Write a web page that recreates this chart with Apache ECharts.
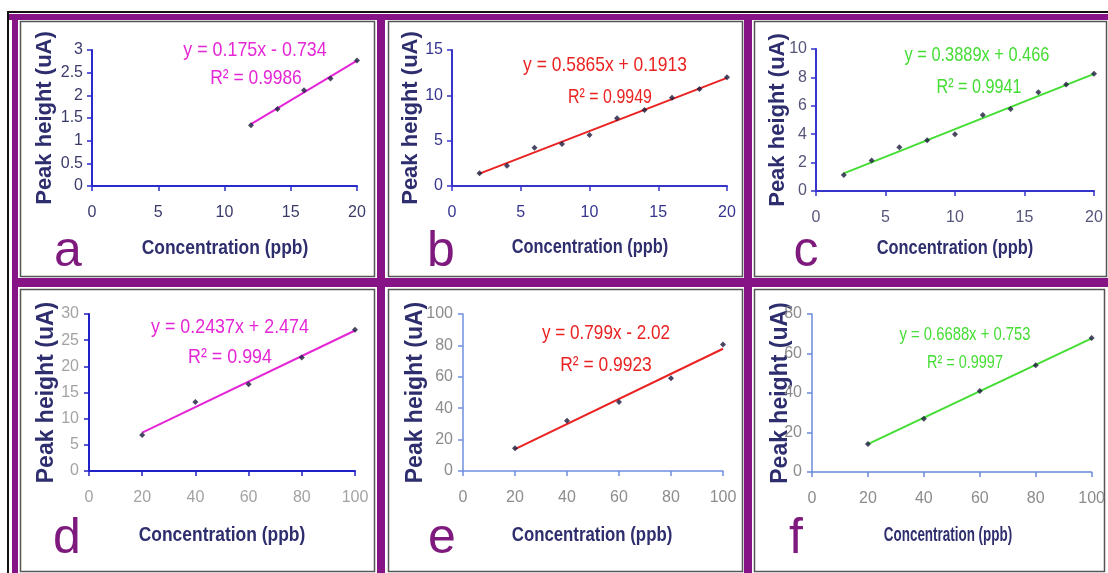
<!DOCTYPE html>
<html>
<head>
<meta charset="utf-8">
<script src="https://cdn.jsdelivr.net/npm/echarts@6/dist/echarts.min.js"></script>
<style>
  html, body { margin: 0; padding: 0; background: #ffffff; }
  #chart { width: 1108px; height: 573px; }
</style>
</head>
<body>
<div id="chart"></div>
<script>
// Calibration curves: peak height versus concentration for six analyses (a–f)
const panelLetters = ['a', 'b', 'c', 'd', 'e', 'f'];

const concA = [12, 14, 16, 18, 20];
const peakA = [1.34, 1.70, 2.11, 2.37, 2.77];

const concB = [2, 4, 6, 8, 10, 12, 14, 16, 18, 20];
const peakB = [1.40, 2.24, 4.23, 4.63, 5.62, 7.46, 8.38, 9.74, 10.70, 11.99];

const concC = [2, 4, 6, 8, 10, 12, 14, 16, 18, 20];
const peakC = [1.12, 2.14, 3.08, 3.57, 4.00, 5.36, 5.78, 6.95, 7.50, 8.26];

const concD = [20, 40, 60, 80, 100];
const peakD = [6.9, 13.2, 16.6, 21.7, 27.0];

const concE = [20, 40, 60, 80, 100];
const peakE = [14.5, 32.0, 44.0, 59.0, 80.6];

const concF = [20, 40, 60, 80, 100];
const peakF = [14.2, 27.0, 41.0, 54.0, 67.8];

// Linear regression results shown on each plot
const slopes = [0.175, 0.5865, 0.3889, 0.2437, 0.799, 0.6688];
const intercepts = [-0.734, 0.1913, 0.466, 2.474, -2.02, 0.753];
const rSquared = [0.9986, 0.9949, 0.9941, 0.994, 0.9923, 0.9997];

// Axis ranges and tick steps
const xMaxes = [20, 20, 20, 100, 100, 100];
const xSteps = [5, 5, 5, 20, 20, 20];
const yMaxes = [3, 15, 10, 30, 100, 80];
const ySteps = [0.5, 5, 2, 5, 20, 20];

const xAxisTitle = 'Concentration (ppb)';
const yAxisTitle = 'Peak height (uA)';

const concs = [concA, concB, concC, concD, concE, concF];
const peaks = [peakA, peakB, peakC, peakD, peakE, peakF];

// ---- presentation ----
const SANS = '"Liberation Sans", Arial, sans-serif';
const PURPLE = '#861486';
const fitColors = ['#e526d6', '#ea2222', '#44dd33', '#e526d6', '#ea2222', '#44dd33'];
const axisColors = ['#2a2acc', '#3535cc', '#3535cc', '#2020c8', '#6f8fdf', '#6a8ad8'];
const tickColors = ['#3a3a6a', '#35358f', '#55557a', '#a3a3a3', '#8c8c8c', '#8c8c8c'];
const nameColor = '#2e2e6e';

// plotting rectangles [left, top, width, height]
const plotRects = [
  [92, 50, 265, 136],
  [452, 50, 275, 136],
  [816, 49, 278, 142],
  [89, 314, 266, 157],
  [463, 314, 260, 157],
  [812, 314, 281, 158]
];
const yNameGaps = [36, 30, 27, 31, 36, 20];
const yNameSizes = [22, 22, 22, 23, 23, 23];

// condensed text blocks: centre x, centre y, horizontal squeeze
const xTitlePos = [[225, 248, 0.83], [590, 247, 0.78], [955, 248, 0.78], [222, 535, 0.83], [592, 535, 0.80], [948, 535, 0.64]];
const eqPos = [[255, 50, 0.85], [605, 65, 0.83], [977, 55, 0.78], [230, 327, 0.85], [606, 333, 0.815], [965, 335, 0.78]];
const r2Pos = [[256, 78, 0.83], [610, 97, 0.76], [979, 87, 0.77], [230, 357, 0.85], [606, 365, 0.83], [965, 363, 0.76]];
const eqSizes = [21, 21, 21, 21, 21, 19];
const letterPos = [[68, 252], [441, 252], [806, 252], [67, 539], [442, 539], [796, 539]];

function eqText(i) {
  const b = intercepts[i];
  return 'y = ' + slopes[i] + 'x ' + (b < 0 ? '- ' : '+ ') + Math.abs(b);
}

const grid = [], xAxis = [], yAxis = [], series = [];
for (let i = 0; i < 6; i++) {
  const r = plotRects[i];
  grid.push({ left: r[0], top: r[1], width: r[2], height: r[3] });
  xAxis.push({
    type: 'value', gridIndex: i, min: 0, max: xMaxes[i], interval: xSteps[i],
    axisLine: { show: true, onZero: false, lineStyle: { color: axisColors[i], width: i < 4 ? 2 : 1.5 } },
    axisTick: { show: true, length: 5, lineStyle: { color: axisColors[i], width: 1.5 } },
    axisLabel: { fontFamily: SANS, fontSize: 16, color: tickColors[i], margin: 19 },
    splitLine: { show: false }
  });
  yAxis.push({
    type: 'value', gridIndex: i, min: 0, max: yMaxes[i], interval: ySteps[i],
    name: yAxisTitle, nameLocation: 'middle', nameGap: yNameGaps[i], nameRotate: 90,
    nameMoveOverlap: false,
    nameTextStyle: { fontFamily: SANS, fontWeight: 'bold', fontSize: yNameSizes[i], color: nameColor },
    axisLine: { show: true, onZero: false, lineStyle: { color: axisColors[i], width: i < 4 ? 2 : 1.5 } },
    axisTick: { show: true, length: 5, lineStyle: { color: axisColors[i], width: 1.5 } },
    axisLabel: { fontFamily: SANS, fontSize: 16, color: tickColors[i], margin: i < 3 ? 9 : 10 },
    splitLine: { show: false }
  });
  const xs = concs[i], ys = peaks[i];
  const x0 = xs[0], x1 = xs[xs.length - 1];
  // regression line drawn from the stated slope and intercept
  series.push({
    type: 'line', xAxisIndex: i, yAxisIndex: i, showSymbol: false, silent: true,
    lineStyle: { color: fitColors[i], width: 2 },
    data: [[x0, slopes[i] * x0 + intercepts[i]], [x1, slopes[i] * x1 + intercepts[i]]],
    z: 2
  });
  series.push({
    type: 'scatter', xAxisIndex: i, yAxisIndex: i, symbol: 'diamond', symbolSize: 6,
    itemStyle: { color: '#1a1a3c' },
    data: xs.map((x, k) => [x, ys[k]]),
    z: 3
  });
}

// frame: black outer rule, purple dividers, thin grey panel borders
const graphic = [
  { type: 'rect', shape: { x: 8, y: 11, width: 1100, height: 2 }, style: { fill: '#111' } },
  { type: 'rect', shape: { x: 7, y: 11, width: 2, height: 562 }, style: { fill: '#111' } },
  { type: 'rect', shape: { x: 9, y: 14, width: 1099, height: 6 }, style: { fill: PURPLE } },
  { type: 'rect', shape: { x: 12, y: 14, width: 6, height: 559 }, style: { fill: PURPLE } },
  { type: 'rect', shape: { x: 12, y: 278, width: 1096, height: 9 }, style: { fill: PURPLE } },
  { type: 'rect', shape: { x: 377, y: 14, width: 8, height: 559 }, style: { fill: PURPLE } },
  { type: 'rect', shape: { x: 744, y: 14, width: 8, height: 559 }, style: { fill: PURPLE } }
];
const panelBoxes = [
  [20, 21, 354, 255], [388, 21, 354, 255], [754, 21, 352, 255],
  [20, 289, 354, 282], [388, 289, 354, 282], [754, 289, 350, 282]
];
panelBoxes.forEach(b => graphic.push({
  type: 'rect', shape: { x: b[0] + 0.5, y: b[1] + 0.5, width: b[2], height: b[3] },
  style: { fill: null, stroke: '#555', lineWidth: 1.5 }
}));

function squeezedText(pos, text, size, weight, color) {
  return {
    type: 'text', x: pos[0], y: pos[1], scaleX: pos[2], scaleY: 1,
    style: { text, fontFamily: SANS, fontSize: size, fontWeight: weight, fill: color, align: 'center', verticalAlign: 'middle' }
  };
}

for (let i = 0; i < 6; i++) {
  graphic.push(squeezedText(xTitlePos[i], xAxisTitle, 21, 'bold', nameColor));
  graphic.push(squeezedText(eqPos[i], eqText(i), eqSizes[i], 'normal', fitColors[i]));
  graphic.push(squeezedText(r2Pos[i], 'R² = ' + rSquared[i], eqSizes[i], 'normal', fitColors[i]));
  graphic.push({
    type: 'text', x: letterPos[i][0], y: letterPos[i][1],
    style: { text: panelLetters[i], fontFamily: SANS, fontSize: 50, fill: '#7e1a7e', align: 'center', verticalAlign: 'middle' }
  });
}

const chart = echarts.init(document.getElementById('chart'), null, { renderer: 'canvas' });
chart.setOption({
  backgroundColor: '#ffffff',
  animation: false,
  grid, xAxis, yAxis, series, graphic
});
</script>
</body>
</html>
